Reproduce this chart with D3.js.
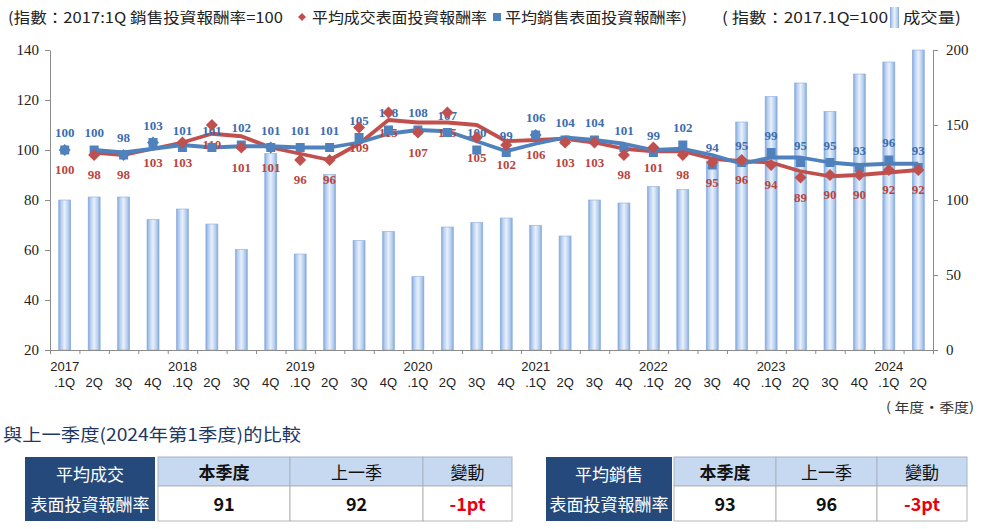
<!DOCTYPE html>
<html><head><meta charset="utf-8">
<script src="https://cdn.jsdelivr.net/npm/d3@7"></script>
<style>
html,body{margin:0;padding:0;background:#fff;}
svg{display:block;}
</style></head>
<body>
<svg id="c" width="983" height="529"></svg>
<script>
// ---- data ----
const categories = ["2017.1Q","2017.2Q","2017.3Q","2017.4Q","2018.1Q","2018.2Q","2018.3Q","2018.4Q",
  "2019.1Q","2019.2Q","2019.3Q","2019.4Q","2020.1Q","2020.2Q","2020.3Q","2020.4Q",
  "2021.1Q","2021.2Q","2021.3Q","2021.4Q","2022.1Q","2022.2Q","2022.3Q","2022.4Q",
  "2023.1Q","2023.2Q","2023.3Q","2023.4Q","2024.1Q","2024.2Q"];
const yearLabels = ["2017","","","","2018","","","","2019","","","","2020","","","","2021","","","","2022","","","","2023","","","","2024",""];
const quarterLabels = [".1Q","2Q","3Q","4Q",".1Q","2Q","3Q","4Q",".1Q","2Q","3Q","4Q",".1Q","2Q","3Q","4Q",
  ".1Q","2Q","3Q","4Q",".1Q","2Q","3Q","4Q",".1Q","2Q","3Q","4Q",".1Q","2Q"];
// 成交量 (right axis)
const volume = [100,102,102,87,94,84,67,131,64,117,73,79,49,82,85,88,83,76,100,98,109,107,126,152,169,178,159,184,192,200];
// 平均成交表面投資報酬率 (markers)
const dealYield = [100,98,98,103,103,110,101,101,96,96,109,115,107,115,105,102,106,103,103,98,101,98,95,96,94,89,90,90,92,92];
// 平均銷售表面投資報酬率 (markers)
const saleYield = [100,100,98,103,101,101,102,101,101,101,105,108,108,107,100,99,106,104,104,101,99,102,94,95,99,95,95,93,96,93];
// trend lines as drawn
const dealTrend = [null,99,98,100.5,103,106.5,105.5,101,98.5,96,102.5,112,111,111,110,103.5,104,104.5,103,100.5,99.5,99.5,96.5,95.5,95,91.5,89.5,90,91,92];
const saleTrend = [null,100,99,100.5,102,101,101.5,101.5,101,101,103,106.5,108,107.5,103.5,99.5,102.5,105,104,102.5,100,100.5,98,94.5,97,97,95,94,94.5,94.5];
const leftTicks = [20,40,60,80,100,120,140];
const rightTicks = [0,50,100,150,200];
// tables
const table1 = {title:["平均成交","表面投資報酬率"], head:["本季度","上一季","變動"], vals:["91","92","-1pt"]};
const table2 = {title:["平均銷售","表面投資報酬率"], head:["本季度","上一季","變動"], vals:["93","96","-3pt"]};

// ---- drawing ----
const svg = d3.select("#c");
const RED = "#c0504d", BLUE = "#4f81bd";
const RED_T = "#b8443e", BLUE_T = "#3b6db0";
const AX = "#8c8c8c";
const L = 50, R = 933, T = 50, B = 350;

const x = d3.scaleBand().domain(categories).range([L, R]).padding(0);
const yL = d3.scaleLinear().domain([20,140]).range([B, T]);
const yR = d3.scaleLinear().domain([0,200]).range([B, T]);
const cx = c => x(c) + x.bandwidth()/2;

const defs = svg.append("defs");
const g = defs.append("linearGradient").attr("id","barG").attr("x1","0").attr("x2","1").attr("y1","0").attr("y2","0");
[[0,"#7fa6da"],[0.18,"#b3cbee"],[0.5,"#e9f1fb"],[0.82,"#b3cbee"],[1,"#7fa6da"]].forEach(s=>
  g.append("stop").attr("offset",s[0]).attr("stop-color",s[1]));

// bars
const bw = 12;
svg.append("g").selectAll("rect").data(categories).join("rect")
  .attr("x", c => cx(c) - bw/2).attr("width", bw)
  .attr("y", (c,i) => yR(volume[i])).attr("height", (c,i) => B - yR(volume[i]))
  .attr("fill","url(#barG)").attr("stroke","#8aaee0").attr("stroke-width",0.6);

// axes
const axL = svg.append("g").attr("transform",`translate(${L},0)`)
  .call(d3.axisLeft(yL).tickValues(leftTicks).tickSize(5).tickSizeOuter(0).tickPadding(6));
const axR = svg.append("g").attr("transform",`translate(${R},0)`)
  .call(d3.axisRight(yR).tickValues(rightTicks).tickSize(5).tickSizeOuter(0).tickPadding(8));
[axL, axR].forEach(a => {
  a.selectAll("path,line").attr("stroke",AX);
  a.selectAll("text").attr("font-family","'Liberation Serif',serif").attr("font-size",15).attr("fill","#222");
});
const xb = d3.scaleLinear().domain([0, categories.length]).range([L, R]);
const axB = svg.append("g").attr("transform",`translate(0,${B})`)
  .call(d3.axisBottom(xb).tickValues(d3.range(categories.length+1)).tickFormat("").tickSize(4).tickSizeOuter(0));
axB.selectAll("path,line").attr("stroke",AX);

// x labels
const xl = svg.append("g").attr("font-family","'Liberation Sans',Arial,sans-serif").attr("font-size",13).attr("fill","#222");
xl.selectAll("text.yr").data(categories).join("text").attr("class","yr")
  .attr("x", c => cx(c)).attr("y", 371).attr("text-anchor","middle").text((c,i)=>yearLabels[i]);
xl.selectAll("text.q").data(categories).join("text").attr("class","q")
  .attr("x", c => cx(c)).attr("y", 387).attr("text-anchor","middle").text((c,i)=>quarterLabels[i]);

svg.append("text").attr("x",886).attr("y",412)
  .attr("font-family","'Noto Sans CJK TC',sans-serif").attr("font-size",13).attr("fill","#333")
  .attr("textLength",88).attr("lengthAdjust","spacingAndGlyphs")
  .text("( 年度‧季度)");

// lines
const line = d3.line().defined(d => d.v != null).x(d => cx(d.c)).y(d => yL(d.v));
svg.append("path").datum(categories.map((c,i)=>({c, v: dealTrend[i]})))
  .attr("d", line).attr("fill","none").attr("stroke",RED).attr("stroke-width",3.8).attr("stroke-linejoin","round");
svg.append("path").datum(categories.map((c,i)=>({c, v: saleTrend[i]})))
  .attr("d", line).attr("fill","none").attr("stroke",BLUE).attr("stroke-width",3.8).attr("stroke-linejoin","round");

// labels
const lab = svg.append("g").attr("font-family","'Liberation Serif',serif").attr("font-weight","bold").attr("font-size",13).attr("text-anchor","middle");
lab.selectAll("text.b").data(categories).join("text").attr("class","b")
  .attr("x", c => cx(c)).attr("y", (c,i) => yL(saleYield[i]) - 13).attr("fill",BLUE_T).text((c,i)=>saleYield[i]);
lab.selectAll("text.r").data(categories).join("text").attr("class","r")
  .attr("x", c => cx(c)).attr("y", (c,i) => yL(dealYield[i]) + 24).attr("fill",RED_T).text((c,i)=>dealYield[i]);

// markers
const sq = 9;
svg.append("g").selectAll("rect").data(categories).join("rect")
  .attr("x", c => cx(c) - sq/2).attr("y", (c,i) => yL(saleYield[i]) - sq/2)
  .attr("width", sq).attr("height", sq).attr("fill", BLUE);
const dm = 6;
svg.append("g").selectAll("path").data(categories).join("path")
  .attr("d", (c,i) => { const px = cx(c), py = yL(dealYield[i]);
    return `M${px},${py-dm}L${px+dm},${py}L${px},${py+dm}L${px-dm},${py}Z`; })
  .attr("fill", (c,i) => dealYield[i] === saleYield[i] ? BLUE : RED);

// header legend
const hf = "'Noto Sans CJK TC',sans-serif";
const hd = svg.append("g").attr("font-family",hf).attr("font-size",15).attr("fill","#222");
function ht(txt, x0, len){ hd.append("text").attr("x",x0).attr("y",23).attr("textLength",len).attr("lengthAdjust","spacingAndGlyphs").text(txt); }
ht("(指數：2017:1Q 銷售投資報酬率=100", 8, 275);
svg.append("path").attr("d","M302,13L306,17L302,21L298,17Z").attr("fill",RED);
ht("平均成交表面投資報酬率", 312, 175);
svg.append("rect").attr("x",493).attr("y",13).attr("width",8).attr("height",8).attr("fill",BLUE);
ht("平均銷售表面投資報酬率)", 505, 182);
ht("( 指數：2017.1Q=100", 722, 166);
svg.append("rect").attr("x",890).attr("y",7).attr("width",9).attr("height",21).attr("fill","url(#barG)");
ht("成交量)", 903, 58);

// section title
svg.append("text").attr("x",3).attr("y",441).attr("font-family",hf).attr("font-size",17.5)
  .attr("fill","#1f3864").attr("textLength",298).attr("lengthAdjust","spacingAndGlyphs")
  .text("與上一季度(2024年第1季度)的比較");

// tables
function drawTable(t, nx0, nx1, cols){
  const y0 = 457, ym = 486, y1 = 521;
  const tg = svg.append("g").attr("font-family",hf);
  tg.append("rect").attr("x",nx0).attr("y",y0).attr("width",nx1-nx0).attr("height",y1-y0).attr("fill","#24497a");
  tg.append("text").attr("x",(nx0+nx1)/2).attr("y",481).attr("text-anchor","middle").attr("fill","#fff").attr("font-size",17).text(t.title[0]);
  tg.append("text").attr("x",(nx0+nx1)/2).attr("y",511).attr("text-anchor","middle").attr("fill","#fff").attr("font-size",17).text(t.title[1]);
  for (let k=0;k<3;k++){
    tg.append("rect").attr("x",cols[k]).attr("y",y0).attr("width",cols[k+1]-cols[k]).attr("height",ym-y0)
      .attr("fill","#c6d9f0").attr("stroke","#a9b4c4").attr("stroke-width",1);
    tg.append("rect").attr("x",cols[k]).attr("y",ym).attr("width",cols[k+1]-cols[k]).attr("height",y1-ym)
      .attr("fill","#fff").attr("stroke","#b4b4b4").attr("stroke-width",1);
    const mx = (cols[k]+cols[k+1])/2;
    tg.append("text").attr("x",mx).attr("y",479).attr("text-anchor","middle").attr("font-size",17)
      .attr("font-weight",k===0?"bold":"normal").attr("fill","#111").text(t.head[k]);
    tg.append("text").attr("x",mx).attr("y",511).attr("text-anchor","middle").attr("font-size",18)
      .attr("font-weight","bold").attr("fill",k===2?"#e60012":"#111").text(t.vals[k]);
  }
}
drawTable(table1, 25, 155, [158,290,423,512]);
drawTable(table2, 546, 672, [674,776,877,967]);
</script>
</body></html>
